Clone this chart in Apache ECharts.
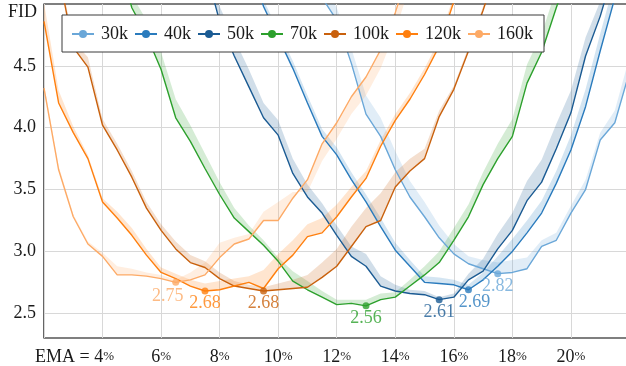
<!DOCTYPE html>
<html>
<head>
<meta charset="utf-8">
<script src="https://cdn.jsdelivr.net/npm/echarts@6/dist/echarts.min.js"></script>
<style>
  html, body { margin: 0; padding: 0; background: #fff; }
  #chart { width: 626px; height: 366px; }
</style>
</head>
<body>
<div id="chart"></div>
<script>
// EMA length (% of training), sampled every 0.5 %
const emaSteps = [2, 2.5, 3, 3.5, 4, 4.5, 5, 5.5, 6, 6.5, 7, 7.5, 8, 8.5, 9, 9.5, 10, 10.5, 11, 11.5,
                  12, 12.5, 13, 13.5, 14, 14.5, 15, 15.5, 16, 16.5, 17, 17.5, 18, 18.5, 19, 19.5, 20, 20.5, 21, 21.5, 22];

// FID per training length; null where the run was not evaluated
const fid30k = [null, null, null, null, null, null, null, null, null, null, null, null, null, null, null, null, null, null,
  5.40, 5.05, 4.87, 4.52, 4.11, 3.93, 3.66, 3.44, 3.28, 3.11, 2.98, 2.90, 2.86, 2.82, 2.83, 2.86, 3.04, 3.09, 3.31, 3.50, 3.90, 4.04, 4.45];
const fid40k = [null, null, null, null, null, null, null, null, null, null, null, null, null, null,
  5.35, 4.98, 4.73, 4.48, 4.20, 3.93, 3.78, 3.58, 3.40, 3.20, 3.01, 2.88, 2.75, 2.74, 2.73, 2.69, 2.77, 2.88, 3.00, 3.15, 3.31, 3.55, 3.82, 4.17, 4.62, 5.05, 5.40];
const fid50k = [null, null, null, null, null, null, null, null, null, null, null,
  5.30, 4.86, 4.58, 4.33, 4.08, 3.94, 3.63, 3.44, 3.31, 3.13, 2.96, 2.88, 2.72, 2.68, 2.66, 2.65, 2.61, 2.63, 2.77, 2.84, 3.02, 3.17, 3.41, 3.56, 3.83, 4.12, 4.58, 4.90, 5.30, null];
const fid70k = [null, null, null, null, null,
  5.40, 4.97, 4.75, 4.47, 4.08, 3.89, 3.67, 3.46, 3.27, 3.16, 3.05, 2.92, 2.76, 2.69, 2.63, 2.57, 2.58, 2.56, 2.61, 2.63, 2.72, 2.81, 2.91, 3.09, 3.28, 3.54, 3.75, 3.93, 4.36, 4.61, 4.97, 5.30,
  null, null, null, null];
const fid100k = [null,
  5.25, 4.65, 4.49, 4.02, 3.82, 3.60, 3.35, 3.17, 3.02, 2.91, 2.87, 2.78, 2.72, 2.70, 2.68, 2.69, 2.70, 2.71, 2.79, 2.88, 3.04, 3.20, 3.25, 3.52, 3.65, 3.75, 4.09, 4.31, 4.62, 4.95, 5.30,
  null, null, null, null, null, null, null, null, null];
const fid120k = [4.86, 4.20, 3.96, 3.75, 3.40, 3.27, 3.13, 2.97, 2.83, 2.78, 2.72, 2.68, 2.69, 2.72, 2.75, 2.70, 2.86, 2.97, 3.12, 3.15, 3.28, 3.44, 3.59, 3.85, 4.06, 4.23, 4.43, 4.66, 5.02, 5.30,
  null, null, null, null, null, null, null, null, null, null, null];
const fid160k = [4.32, 3.66, 3.28, 3.06, 2.96, 2.81, 2.81, 2.80, 2.78, 2.75, 2.77, 2.81, 2.95, 3.06, 3.10, 3.25, 3.25, 3.43, 3.58, 3.87, 4.04, 4.25, 4.41, 4.63, 4.93, 5.30,
  null, null, null, null, null, null, null, null, null, null, null, null, null, null, null];

// Spread across seeds: offset of the far edge of the shaded band from the curve
const spread30k = [null, null, null, null, null, null, null, null, null, null, null, null, null, null, null, null, null, null,
  0.10, 0.10, 0.10, 0.12, 0.15, 0.15, 0.15, 0.13, 0.12, 0.10, 0.08, 0.06, 0.07, 0.09, 0.10, 0.09, 0.05, 0.06, 0.06, 0.08, 0.06, 0.10, 0.12];
const spread40k = [null, null, null, null, null, null, null, null, null, null, null, null, null, null,
  0.05, 0.05, 0.06, 0.06, 0.06, 0.06, 0.06, 0.06, 0.06, 0.07, 0.06, 0.05, 0.05, 0.05, 0.04, 0.04, 0.06, 0.08, 0.10, 0.10, 0.10, 0.10, 0.12, 0.14, 0.14, 0.14, 0.14];
const spread50k = [null, null, null, null, null, null, null, null, null, null, null,
  0.10, 0.12, 0.14, 0.14, 0.12, 0.12, 0.12, 0.10, 0.08, 0.08, 0.08, 0.10, 0.08, 0.05, 0.03, 0.03, 0.02, 0.03, 0.05, 0.10, 0.12, 0.14, 0.16, 0.18, 0.20, 0.18, 0.15, 0.12, 0.10, null];
const spread70k = [null, null, null, null, null,
  0.10, 0.10, 0.12, 0.14, 0.15, 0.13, 0.12, 0.10, 0.08, 0.05, 0.04, 0.03, 0.08, 0.07, 0.05, 0.04, 0.03, 0.05, 0.05, 0.04, 0.05, 0.07, 0.09, 0.10, 0.10, 0.10, 0.12, 0.14, 0.15, 0.15, 0.15, 0.15,
  null, null, null, null];
const spread100k = [null,
  0.05, 0.05, 0.08, 0.05, 0.05, 0.05, 0.05, 0.05, 0.06, 0.06, 0.05, 0.05, 0.04, 0.03, 0.03, 0.05, 0.07, 0.10, 0.12, 0.14, 0.16, 0.15, 0.22, 0.12, 0.10, 0.08, 0.05, 0.03, 0.03, 0.03, 0.03,
  null, null, null, null, null, null, null, null, null];
const spread120k = [0.15, 0.10, 0.05, 0.03, 0.03, 0.05, 0.06, 0.05, 0.04, 0.04, 0.05, 0.06, 0.07, 0.06, 0.05, 0.15, 0.12, 0.12, 0.10, 0.12, 0.10, 0.08, 0.06, 0.05, 0.05, 0.05, 0.05, 0.05, 0.05, 0.05,
  null, null, null, null, null, null, null, null, null, null, null];
const spread160k = [0.03, 0.03, 0.02, 0.02, 0.03, 0.07, 0.05, 0.03, 0.03, 0.02, 0.06, 0.10, 0.12, 0.05, 0.04, 0.07, 0.15, 0.05, -0.10, -0.14, -0.13, -0.14, -0.15, -0.15, -0.15, -0.15,
  null, null, null, null, null, null, null, null, null, null, null, null, null, null, null];

const runNames = ['30k', '40k', '50k', '70k', '100k', '120k', '160k'];
const yTicks = [2.5, 3.0, 3.5, 4.0, 4.5];

const fontFamily = '"Liberation Serif", "DejaVu Serif", serif';
const ink = '#1a1a1a';

const runs = [
  { name: '30k',  color: '#6aa7d8', fid: fid30k,  spread: spread30k,  labelOffset: [0, 0] },
  { name: '40k',  color: '#2a7bbd', fid: fid40k,  spread: spread40k,  labelOffset: [6, 0] },
  { name: '50k',  color: '#1b5b93', fid: fid50k,  spread: spread50k,  labelOffset: [0, 0] },
  { name: '70k',  color: '#2ca02c', fid: fid70k,  spread: spread70k,  labelOffset: [0, 0] },
  { name: '100k', color: '#c9610d', fid: fid100k, spread: spread100k, labelOffset: [0, 0] },
  { name: '120k', color: '#ff7f0e', fid: fid120k, spread: spread120k, labelOffset: [0, 0] },
  { name: '160k', color: '#fdaa66', fid: fid160k, spread: spread160k, labelOffset: [-8, 1] }
];

function toPoints(values) {
  const pts = [];
  values.forEach((v, i) => { if (v != null) pts.push([emaSteps[i], v]); });
  return pts;
}

const series = [];

// shaded seed-spread bands, drawn beneath the curves
runs.forEach(run => {
  const band = [];
  run.fid.forEach((v, i) => {
    if (v != null && run.spread[i] != null) band.push([emaSteps[i], v, v + run.spread[i]]);
  });
  series.push({
    type: 'custom',
    silent: true,
    clip: true,
    z: 1,
    data: [[band[0][0], band[0][1]]],
    renderItem: (params, api) => {
      const near = band.map(p => api.coord([p[0], p[1]]));
      const far = band.map(p => api.coord([p[0], p[2]])).reverse();
      return {
        type: 'polygon',
        shape: { points: near.concat(far) },
        style: { fill: run.color, opacity: 0.2 }
      };
    }
  });
});

// one curve per training length
runs.forEach(run => {
  series.push({
    type: 'line',
    name: run.name,
    data: toPoints(run.fid),
    symbol: 'circle',
    showSymbol: false,
    clip: true,
    silent: true,
    z: 3,
    lineStyle: { width: 1.4, color: run.color },
    itemStyle: { color: run.color }
  });
});

// best FID of each run, marked and labelled
const bestPoints = runs.map(run => {
  let best = -1;
  run.fid.forEach((v, i) => { if (v != null && (best < 0 || v < run.fid[best])) best = i; });
  return {
    value: [emaSteps[best], run.fid[best]],
    itemStyle: { color: run.color },
    label: { color: run.color, offset: run.labelOffset }
  };
});
series.push({
  type: 'scatter',
  data: bestPoints,
  symbol: 'circle',
  symbolSize: 7,
  silent: true,
  z: 5,
  label: {
    show: true,
    position: 'bottom',
    distance: 0,
    fontFamily: fontFamily,
    fontSize: 18,
    formatter: p => p.value[1].toFixed(2)
  }
});

const chart = echarts.init(document.getElementById('chart'));
chart.setOption({
  animation: false,
  backgroundColor: '#fff',
  grid: {
    left: 44, right: -2, top: 4, bottom: 28,
    containLabel: false,
    outerBoundsMode: 'none',
    show: true, borderColor: '#000', borderWidth: 1.2, backgroundColor: 'transparent'
  },
  xAxis: {
    type: 'value',
    min: 2, max: 21.95, interval: 2,
    axisLine: { show: false },
    axisTick: { show: false },
    splitLine: { show: true, lineStyle: { color: '#d8d8d8', width: 1 } },
    axisLabel: {
      margin: 10,
      showMinLabel: false,
      showMaxLabel: false,
      color: ink,
      fontFamily: fontFamily,
      formatter: v => {
        if (v === 4) return '{e|EMA = }{n|4}{p|%}{s|}';
        if (v % 2 !== 0 || v < 4) return '';
        return '{n|' + v + '}{p|%}';
      },
      rich: {
        e: { fontFamily: fontFamily, fontSize: 18, color: ink },
        n: { fontFamily: fontFamily, fontSize: 18, color: ink },
        p: { fontFamily: fontFamily, fontSize: 13, color: ink },
        s: { width: 56 }
      }
    }
  },
  yAxis: {
    type: 'value',
    min: 2.3, max: 5.0,
    axisLine: { show: false },
    axisTick: { show: false, customValues: yTicks },
    splitLine: { show: true, lineStyle: { color: '#d8d8d8', width: 1 } },
    axisLabel: {
      customValues: yTicks,
      margin: 8,
      color: ink,
      fontFamily: fontFamily,
      fontSize: 18,
      formatter: v => v.toFixed(1)
    }
  },
  legend: {
    data: runNames,
    left: 62, top: 15,
    orient: 'horizontal',
    itemWidth: 22, itemHeight: 10, itemGap: 6,
    padding: [10, 11, 9, 9],
    backgroundColor: '#fff',
    borderColor: '#3a3a3a', borderWidth: 1, borderRadius: 0,
    textStyle: { fontFamily: fontFamily, fontSize: 18, color: ink, padding: [0, 0, 0, 2] }
  },
  graphic: [{
    type: 'text', left: 8, top: 3,
    style: { text: 'FID', font: '18px "Liberation Serif", serif', fill: ink }
  }],
  series: series
});
</script>
</body>
</html>
